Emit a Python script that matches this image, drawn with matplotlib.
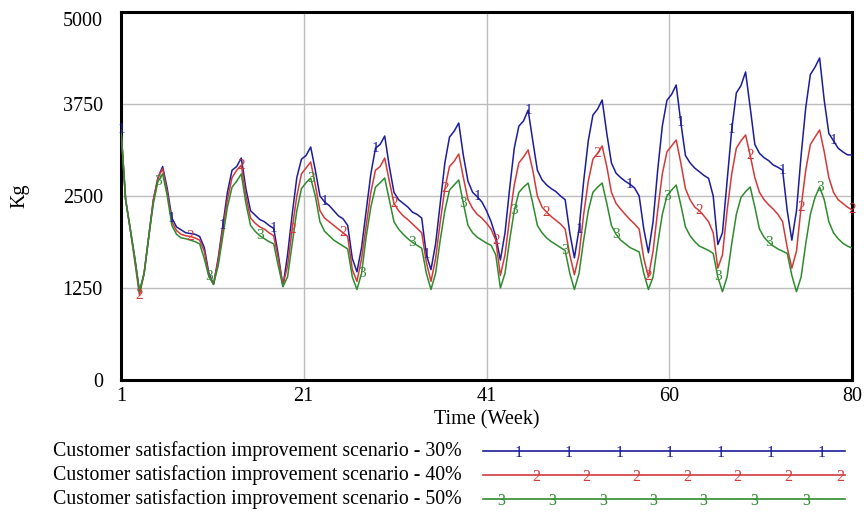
import numpy as np
import matplotlib
matplotlib.use("Agg")
import matplotlib.pyplot as plt

plt.rcParams['font.family'] = ['Liberation Serif', 'DejaVu Serif']

# weeks, sampled every half week (1 .. 80)
weeks = np.arange(1, 80.5, 0.5)

# 30% scenario (blue), rows of 4 weeks
kg_30 = [
    3400, 2450, 2050, 1650, 1200, 1450, 1950, 2450,
    2750, 2900, 2600, 2200, 2080, 2040, 2000, 1990,
    1980, 1950, 1800, 1450, 1300, 1650, 2100, 2550,
    2850, 2900, 3016, 2600, 2300, 2240, 2180, 2150,
    2100, 2060, 1700, 1270, 1700, 2250, 2750, 3000,
    3050, 3166, 2850, 2500, 2420, 2370, 2300, 2230,
    2190, 2100, 1650, 1470, 1800, 2300, 2800, 3150,
    3200, 3315, 2900, 2550, 2450, 2400, 2350, 2280,
    2250, 2200, 1700, 1500, 1850, 2400, 2950, 3300,
    3380, 3492, 3050, 2700, 2550, 2490, 2420, 2300,
    2150, 1950, 1630, 2000, 2600, 3150, 3450, 3520,
    3668, 3250, 2850, 2720, 2650, 2600, 2560, 2500,
    2450, 2000, 1660, 2050, 2700, 3250, 3600, 3680,
    3804, 3350, 2950, 2810, 2750, 2700, 2660, 2610,
    2500, 2050, 1730, 2150, 2850, 3450, 3800, 3880,
    4008, 3500, 3050, 2950, 2880, 2830, 2780, 2740,
    2500, 1840, 2000, 2700, 3400, 3900, 4000, 4185,
    3700, 3200, 3080, 3020, 2980, 2920, 2890, 2850,
    2300, 1900, 2300, 3050, 3700, 4150, 4250, 4375,
    3800, 3350, 3250, 3150, 3100, 3060, 3057,
]

# 40% scenario (red)
kg_40 = [
    3400, 2450, 2050, 1600, 1150, 1450, 1950, 2450,
    2750, 2870, 2550, 2150, 2030, 1980, 1960, 1950,
    1930, 1900, 1750, 1420, 1300, 1620, 2050, 2450,
    2750, 2850, 2920, 2500, 2200, 2130, 2080, 2050,
    2000, 1960, 1650, 1290, 1550, 2050, 2500, 2800,
    2880, 2962, 2650, 2300, 2200, 2150, 2100, 2050,
    2000, 1950, 1500, 1340, 1650, 2100, 2550, 2850,
    2900, 3016, 2700, 2400, 2300, 2230, 2180, 2120,
    2060, 2000, 1600, 1340, 1650, 2150, 2600, 2900,
    2970, 3071, 2750, 2450, 2330, 2250, 2200, 2130,
    2050, 1900, 1420, 1700, 2200, 2650, 2950, 3030,
    3125, 2850, 2500, 2350, 2280, 2220, 2170, 2120,
    2050, 1700, 1430, 1700, 2250, 2700, 3000, 3080,
    3179, 2900, 2550, 2400, 2320, 2250, 2180, 2120,
    2050, 1650, 1400, 1750, 2300, 2800, 3100, 3180,
    3261, 2950, 2600, 2450, 2350, 2300, 2230, 2150,
    2000, 1520, 1700, 2300, 2800, 3150, 3250, 3329,
    3050, 2750, 2550, 2450, 2380, 2320, 2250, 2150,
    1800, 1520, 1750, 2350, 2850, 3200, 3300, 3397,
    3100, 2750, 2550, 2450, 2400, 2350, 2310,
]

# 50% scenario (green)
kg_50 = [
    3400, 2450, 2050, 1650, 1200, 1450, 1950, 2400,
    2700, 2800, 2500, 2100, 1980, 1930, 1920, 1900,
    1880, 1850, 1650, 1400, 1300, 1550, 1950, 2350,
    2620, 2700, 2800, 2400, 2100, 2020, 1960, 1920,
    1880, 1850, 1550, 1270, 1400, 1850, 2300, 2600,
    2680, 2744, 2500, 2150, 2020, 1960, 1900, 1860,
    1820, 1780, 1400, 1230, 1450, 1950, 2350, 2620,
    2680, 2744, 2450, 2150, 2050, 1980, 1920, 1870,
    1830, 1790, 1450, 1230, 1450, 1900, 2300, 2580,
    2650, 2717, 2400, 2100, 2000, 1940, 1900, 1860,
    1830, 1700, 1250, 1450, 1900, 2300, 2550, 2620,
    2676, 2400, 2100, 2000, 1930, 1880, 1840, 1800,
    1760, 1450, 1230, 1450, 1900, 2300, 2550, 2620,
    2676, 2400, 2100, 1980, 1900, 1850, 1800, 1770,
    1740, 1450, 1230, 1400, 1850, 2250, 2500, 2580,
    2649, 2380, 2080, 1960, 1880, 1820, 1790, 1760,
    1720, 1400, 1200, 1400, 1850, 2250, 2480, 2560,
    2622, 2350, 2050, 1940, 1870, 1820, 1780, 1750,
    1720, 1420, 1200, 1400, 1850, 2250, 2480, 2622,
    2450, 2150, 2000, 1920, 1860, 1820, 1793,
]

labels = ["Customer satisfaction improvement scenario - 30%",
          "Customer satisfaction improvement scenario - 40%",
          "Customer satisfaction improvement scenario - 50%"]
colors = ["#1c1c9c", "#d23a3a", "#2e8b2e"]
tags = ["1", "2", "3"]
# weeks where the series number is written on the line
tag_weeks = [
    [1, 6.5, 12, 17.5, 23, 28.5, 34, 39.5, 45, 50.5, 56, 61.5, 67, 72.5, 78],
    [3, 8.5, 14, 19.5, 25, 30.5, 36, 41.5, 47, 52.5, 58, 63.5, 69, 74.5, 80],
    [5, 10.5, 16, 21.5, 27, 32.5, 38, 43.5, 49, 54.5, 60, 65.5, 71, 76.5],
]

xticks = [1, 20.75, 40.5, 60.25, 80]
xticklabels = ["1", "21", "41", "60", "80"]
yticks = [0, 1250, 2500, 3750, 5000]

fig = plt.figure(figsize=(8.68, 5.17), dpi=100)
ax = fig.add_axes([121 / 868, 1 - 380 / 517, 731 / 868, 368 / 517])

series = [kg_30, kg_40, kg_50]
for vals, c, tag, tw in zip(series, colors, tags, tag_weeks):
    ax.plot(weeks, vals, color=c, lw=1.1, zorder=3)
    for w in tw:
        v = np.interp(w, weeks, vals)
        ax.text(w, v, tag, color=c, fontsize=11, ha='center', va='center',
                zorder=4, clip_on=False)

ax.set_xlim(1, 80)
ax.set_ylim(0, 5000)
ax.set_xticks(xticks)
ax.set_xticklabels(xticklabels)
ax.set_yticks(yticks)
ax.set_yticklabels([str(t) for t in yticks])
ax.get_yticklabels()[-1].set_va('top')
ax.grid(True, color='#bdbdbd', lw=1)
ax.tick_params(length=0, labelsize=14.5)
ax.tick_params(axis='y', pad=13)
ax.tick_params(axis='x', pad=5)
for s in ax.spines.values():
    s.set_linewidth(2.2)
    s.set_color('black')
ax.set_xlabel("Time (Week)", fontsize=14.5, labelpad=3)
ax.set_ylabel("Kg", fontsize=14.5, labelpad=24)

# legend drawn in pixel coordinates under the plot
leg = fig.add_axes([0, 0, 1, 1], facecolor='none')
leg.set_xlim(0, 868)
leg.set_ylim(517, 0)
leg.axis('off')
row_y = [451, 475, 499]
tag_x = [
    [519, 569, 620, 670, 721, 771, 822],
    [536, 586, 636, 687, 737, 788, 840],
    [501, 552, 603, 653, 703, 754, 806],
]
for lab, c, tag, y, tx in zip(labels, colors, tags, row_y, tag_x):
    leg.text(462, y, lab, fontsize=14.3, ha='right', va='center')
    leg.plot([483, 845], [y, y], color=c, lw=1.2)
    for x in tx:
        leg.text(x, y + 2, tag, color=c, fontsize=11.5, ha='center', va='center')

fig.savefig("out.png", dpi=100)
